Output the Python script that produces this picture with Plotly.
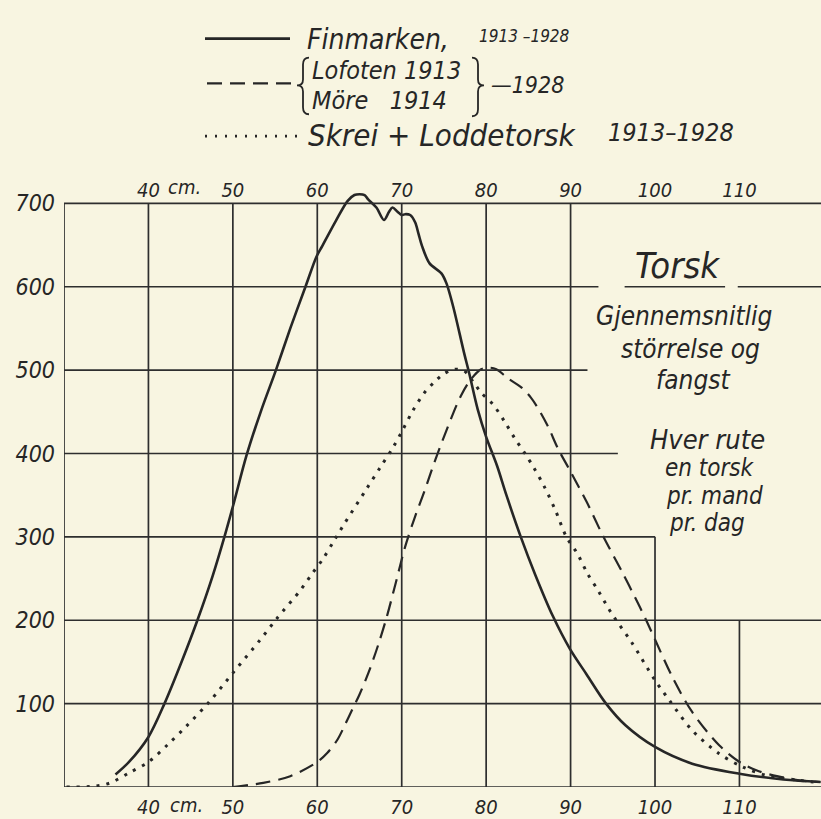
import plotly.graph_objects as go

# ---------------- data ----------------
fin_x = [36.1, 37.7, 40.0, 41.9, 44.0, 45.8, 47.6, 49.0, 50.1, 51.6, 53.3, 55.1, 56.8, 58.6, 59.9,
         60.6, 62.2, 63.6, 64.4, 65.0, 65.6, 66.0, 67.0, 67.9, 68.5, 68.9, 69.5, 70.0, 70.4, 71.0,
         71.6, 72.0, 72.4, 73.3, 74.7, 75.3, 76.1, 77.4, 78.0, 79.0, 80.0, 81.3, 82.4, 84.1, 85.8,
         87.9, 89.9, 91.9, 94.2, 96.5, 100.0, 104.4, 110.0, 115.2, 119.6]
fin_y = [15, 30, 60, 100, 152, 200, 253, 300, 340, 397, 450, 500, 550, 600, 636,
         649, 679, 703, 710, 711, 710, 705, 695, 680, 690, 695, 690, 686, 687, 686,
         677, 663, 649, 628, 616, 604, 576, 520, 496, 453, 420, 385, 350, 300, 255,
         205, 166, 135, 100, 74, 48, 28, 16, 9, 6]

lof_x = [50.0, 53.6, 56.8, 60.0, 61.2, 62.4, 63.3, 64.1, 65.0, 66.1, 67.2, 68.2, 69.3, 70.4, 71.5,
         72.7, 74.0, 75.5, 77.0, 78.2, 79.4, 80.2, 81.2, 82.6, 84.2, 85.3, 86.1, 87.3, 88.5, 89.9,
         91.9, 93.8, 96.2, 98.0, 99.0, 100.0, 102.1, 104.4, 107.6, 110.0, 112.0, 114.0, 117.1, 119.6]
lof_y = [0, 5, 13, 30, 41, 57, 75, 92, 111, 138, 170, 203, 245, 288, 322,
         355, 393, 433, 469, 489, 501, 503, 501, 490, 479, 467, 455, 433, 406, 380,
         342, 302, 256, 220, 199, 177, 131, 90, 50, 30, 20, 14, 8, 6]

skr_x = [30.3, 33.7, 35.5, 37.7, 40.0, 42.3, 44.5, 47.2, 50.1, 53.2, 55.2, 58.0, 59.4, 60.7, 61.9,
         63.1, 65.8, 67.5, 68.9, 70.0, 71.3, 72.7, 73.9, 74.9, 76.2, 77.4, 78.6, 79.4, 80.8, 82.2,
         83.4, 84.6, 85.7, 86.9, 88.2, 89.5, 90.8, 92.0, 93.3, 94.5, 95.4, 97.2, 100.0, 101.7,
         104.4, 107.6, 110.4, 113.2, 117.1, 119.6]
skr_y = [0, 1, 5, 17, 30, 51, 73, 102, 138, 176, 202, 236, 256, 274, 294,
         314, 357, 384, 406, 426, 451, 473, 486, 495, 501, 499, 484, 473, 459, 438,
         418, 400, 382, 360, 332, 300, 280, 256, 235, 214, 200, 174, 128, 104,
         68, 40, 24, 14, 8, 5]

x_ticks = [40, 50, 60, 70, 80, 90, 100, 110]
x_labels = ["40", "50", "60", "70", "80", "90", "100", "110"]
y_ticks = [100, 200, 300, 400, 500, 600, 700]
y_labels = ["100", "200", "300", "400", "500", "600", "700"]

# ---------------- layout constants ----------------
W, H = 821, 819
ML, MR, MT, MB = 64, 0, 170, 29
XR = [30, 119.66]
YR = [0, 740]
BG = "#f8f5e1"
INK = "#262626"
FONT = "DejaVu Sans Condensed, Liberation Sans Narrow, DejaVu Sans, sans-serif"


def P(px, py):
    """pixel -> paper coords (for decorations outside the data area)"""
    return (px - ML) / (W - ML - MR), (H - MB - py) / (H - MT - MB)


fig = go.Figure()
fig.add_trace(go.Scatter(x=fin_x, y=fin_y, mode="lines", name="Finmarken",
                         line=dict(color=INK, width=2.6, shape="spline", smoothing=0.9),
                         cliponaxis=False))
fig.add_trace(go.Scatter(x=lof_x, y=lof_y, mode="lines", name="Lofoten/Möre",
                         line=dict(color=INK, width=2.2, dash="15px,8px", shape="spline", smoothing=0.9)))
fig.add_trace(go.Scatter(x=skr_x, y=skr_y, mode="lines", name="Skrei + Loddetorsk",
                         line=dict(color=INK, width=3, dash="3px,7px", shape="spline", smoothing=0.9)))

shapes = []
GL = dict(color="#2e2e2e", width=1.7)
# horizontal grid segments (value, x-start, x-end)
hsegs = [(0, 30, 119.66), (100, 30, 119.66), (200, 30, 119.66), (300, 30, 100),
         (400, 30, 95.6), (500, 30, 92.0), (600, 30, 93.3), (600, 96.4, 108.3),
         (600, 109.8, 119.66), (700, 30, 119.66)]
for yv, xa, xb in hsegs:
    shapes.append(dict(type="line", xref="x", yref="y", x0=xa, x1=xb, y0=yv, y1=yv, line=GL))
# vertical grid segments (value, y-start, y-end)
vsegs = [(30, 0, 700), (40, 0, 700), (50, 0, 700), (60, 0, 700), (70, 0, 700),
         (80, 0, 700), (90, 0, 700), (100, 0, 300), (110, 0, 200)]
for xv, ya, yb in vsegs:
    shapes.append(dict(type="line", xref="x", yref="y", x0=xv, x1=xv, y0=ya, y1=yb, line=GL))


def hline(px0, px1, py, dash, width):
    a = P(px0, py)
    b = P(px1, py)
    shapes.append(dict(type="line", xref="paper", yref="paper", x0=a[0], x1=b[0], y0=a[1], y1=b[1],
                       line=dict(color=INK, width=width, dash=dash)))


def path(cmds, width=1.8):
    parts = []
    for c in cmds:
        op, pts = c[0], c[1:]
        s = op
        for i in range(0, len(pts), 2):
            x, y = P(pts[i], pts[i + 1])
            s += f" {x:.5f},{y:.5f}"
        parts.append(s)
    shapes.append(dict(type="path", xref="paper", yref="paper", path=" ".join(parts),
                       line=dict(color=INK, width=width)))


# legend samples
hline(205, 290, 38, "solid", 2.6)
hline(207, 296, 83, "15px,8px", 2.2)
hline(205, 300, 136, "2px,8px", 2.6)
# braces
path([("M", 309, 57), ("Q", 303, 57, 303, 64), ("L", 303, 79), ("Q", 303, 85, 297, 85),
      ("Q", 303, 85, 303, 91), ("L", 303, 107), ("Q", 303, 114, 309, 114)])
path([("M", 472, 57), ("Q", 478, 57, 478, 64), ("L", 478, 79), ("Q", 478, 85, 484, 85),
      ("Q", 478, 85, 478, 91), ("L", 478, 109), ("Q", 478, 116, 472, 116)])

annotations = []


def txt(s, px, py, size, anchor="left", color=INK):
    x, y = P(px, py)
    annotations.append(dict(text=s, x=x, y=y, xref="paper", yref="paper", showarrow=False,
                            xanchor=anchor, yanchor="middle",
                            font=dict(family=FONT, size=size, color=color, style="italic")))


txt("Finmarken,", 305, 39, 28)
txt("1913 \u20131928", 477, 35, 17)
txt("Lofoten 1913", 310, 70, 25)
txt("Möre   1914", 310, 100, 25)
txt("\u20141928", 489, 85, 23)
txt("Skrei + Loddetorsk", 306, 135, 31)
txt("1913\u20131928", 606, 132, 25)

txt("Torsk", 677, 266, 36, "center")
txt("Gjennemsnitlig", 684, 317, 26, "center")
txt("störrelse og", 690, 350, 26, "center")
txt("fangst", 693, 381, 26, "center")
txt("Hver rute", 707, 441, 27, "center")
txt("en torsk", 710, 469, 24, "center")
txt("pr. mand", 714, 498, 24, "center")
txt("pr. dag", 707, 525, 24, "center")
txt("cm.", 166, 187, 20)
txt("cm.", 168, 808, 20)

fig.update_layout(
    width=W, height=H,
    margin=dict(l=ML, r=MR, t=MT, b=MB, pad=0),
    paper_bgcolor=BG, plot_bgcolor=BG,
    showlegend=False,
    font=dict(family=FONT, color=INK, style="italic"),
    shapes=shapes, annotations=annotations,
    xaxis=dict(range=XR, tickvals=x_ticks, ticktext=x_labels, showgrid=False, zeroline=False,
               showline=False, ticks="", tickfont=dict(size=20, style="italic"), ticklabelstandoff=6),
    xaxis2=dict(range=XR, overlaying="x", side="top", anchor="free", position=700 / 740,
                tickvals=x_ticks, ticktext=x_labels, showgrid=False, zeroline=False,
                showline=False, ticks="", tickfont=dict(size=20, style="italic"), ticklabelstandoff=2),
    yaxis=dict(range=YR, tickvals=y_ticks, ticktext=y_labels, showgrid=False, zeroline=False,
               showline=False, ticks="", tickfont=dict(size=23, style="italic"), ticklabelstandoff=8),
)
# invisible trace to activate the top axis
fig.add_trace(go.Scatter(x=[XR[0]], y=[0], xaxis="x2", mode="markers", marker=dict(opacity=0),
                         hoverinfo="skip", showlegend=False))

fig.write_html("out.html", config={"displayModeBar": False},
               post_script="document.body.style.margin='0';document.body.style.overflow='hidden';")
